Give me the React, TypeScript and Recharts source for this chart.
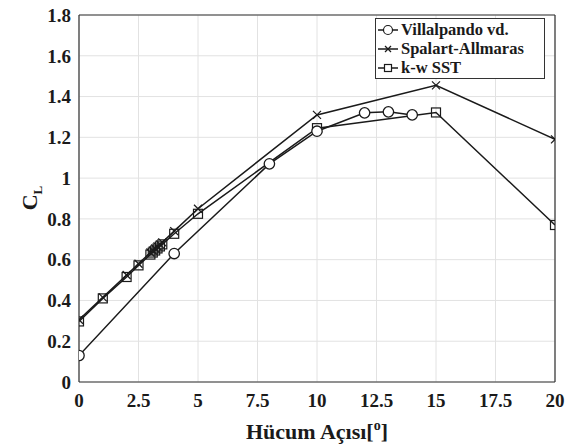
import React from 'react';
import { LineChart, Line, XAxis, YAxis, CartesianGrid, ReferenceLine, Label } from 'recharts';

// angle of attack / lift coefficient
const villalpandoAoa = [0, 4, 8, 10, 12, 13, 14];
const villalpandoCl = [0.13, 0.63, 1.07, 1.23, 1.32, 1.325, 1.31];

const saAoa = [0, 1, 2, 2.5, 3, 3.1, 3.2, 3.3, 3.4, 3.5, 4, 5, 10, 15, 20];
const saCl = [0.305, 0.415, 0.525, 0.58, 0.635, 0.645, 0.655, 0.665, 0.675, 0.685, 0.74, 0.85, 1.31, 1.455, 1.19];

const sstAoa = [0, 1, 2, 2.5, 3, 3.1, 3.2, 3.3, 3.4, 3.5, 4, 5, 10, 15, 20];
const sstCl = [0.297, 0.41, 0.515, 0.572, 0.625, 0.635, 0.645, 0.655, 0.665, 0.675, 0.727, 0.825, 1.245, 1.322, 0.77];

const xTicks = [0, 2.5, 5, 7.5, 10, 12.5, 15, 17.5, 20];
const yTicks = [0, 0.2, 0.4, 0.6, 0.8, 1, 1.2, 1.4, 1.6, 1.8];

const legendNames = ['Villalpando vd.', 'Spalart-Allmaras', 'k-w SST'];

const toPoints = (xs: number[], ys: number[]) => xs.map((aoa, i) => ({ aoa, cl: ys[i] }));

const villalpando = toPoints(villalpandoAoa, villalpandoCl);
const spalart = toPoints(saAoa, saCl);
const sst = toPoints(sstAoa, sstCl);

if (typeof document !== 'undefined') document.body.style.margin = '0';

const FONT = '"Liberation Serif", "Times New Roman", serif';
const INK = '#1a1a1a';

const CircleDot = (p: any) => {
  if (p.cx == null || p.cy == null) return null;
  return <circle key={p.index} cx={p.cx} cy={p.cy} r={5.2} fill="#fff" stroke={INK} strokeWidth={1.3} />;
};

const CrossDot = (p: any) => {
  if (p.cx == null || p.cy == null) return null;
  const s = 4;
  return (
    <g key={p.index} stroke={INK} strokeWidth={1.3}>
      <line x1={p.cx - s} y1={p.cy - s} x2={p.cx + s} y2={p.cy + s} />
      <line x1={p.cx - s} y1={p.cy + s} x2={p.cx + s} y2={p.cy - s} />
    </g>
  );
};

const SquareDot = (p: any) => {
  if (p.cx == null || p.cy == null) return null;
  const s = 4.5;
  return <rect key={p.index} x={p.cx - s} y={p.cy - s} width={2 * s} height={2 * s} fill="none" stroke={INK} strokeWidth={1.2} />;
};

const XLabel = (props: any) => {
  const vb = props.viewBox;
  const cx = vb.x + vb.width / 2;
  return (
    <text x={cx} y={439} textAnchor="middle" fontFamily={FONT} fontWeight="bold" fontSize={22} fill={INK}>
      Hücum Açısı[
      <tspan dy={-9} fontSize={14}>o</tspan>
      <tspan dy={9}>]</tspan>
    </text>
  );
};

const YLabel = () => (
  <text transform="translate(37,198) rotate(-90)" textAnchor="middle" fontFamily={FONT} fontWeight="bold" fontSize={22} fill={INK}>
    C<tspan dy={5} fontSize={13}>L</tspan>
  </text>
);

const LegendSample = ({ kind }: { kind: number }) => (
  <svg width={22} height={14} style={{ display: 'block', flex: 'none' }}>
    <line x1={1} y1={7} x2={21} y2={7} stroke={INK} strokeWidth={1.5} />
    {kind === 0 && <circle cx={11} cy={7} r={4.5} fill="#fff" stroke={INK} strokeWidth={1.2} />}
    {kind === 1 && (
      <g stroke={INK} strokeWidth={1.2}>
        <line x1={8} y1={4} x2={14} y2={10} />
        <line x1={8} y1={10} x2={14} y2={4} />
      </g>
    )}
    {kind === 2 && <rect x={7.5} y={3.5} width={7} height={7} fill="#fff" stroke={INK} strokeWidth={1.2} />}
  </svg>
);

export default function App() {
  return (
    <div style={{ position: 'relative', width: 571, height: 445, background: '#fff' }}>
      <LineChart width={571} height={445} margin={{ top: 15, right: 16, bottom: 0, left: 0 }}>
        <CartesianGrid stroke="#e2e2e2" strokeWidth={1} />
        <XAxis
          type="number"
          dataKey="aoa"
          domain={[0, 20]}
          ticks={xTicks}
          allowDataOverflow
          height={63}
          tickLine={false}
          tickMargin={6}
          axisLine={{ stroke: '#333', strokeWidth: 1.2 }}
          tick={{ fontFamily: FONT, fontWeight: 'bold', fontSize: 19, fill: INK }}
        >
          <Label content={<XLabel />} />
        </XAxis>
        <YAxis
          type="number"
          domain={[0, 1.8]}
          ticks={yTicks}
          allowDataOverflow
          width={79}
          tickLine={false}
          tickMargin={2}
          axisLine={{ stroke: '#333', strokeWidth: 1.2 }}
          tick={{ fontFamily: FONT, fontWeight: 'bold', fontSize: 19, fill: INK }}
        >
          <Label content={<YLabel />} />
        </YAxis>
        <ReferenceLine x={20} stroke="#333" strokeWidth={1.2} />
        <ReferenceLine y={1.8} stroke="#333" strokeWidth={1.2} />
        <Line data={sst} dataKey="cl" type="linear" stroke={INK} strokeWidth={1.5} dot={SquareDot} isAnimationActive={false} />
        <Line data={spalart} dataKey="cl" type="linear" stroke={INK} strokeWidth={1.5} dot={CrossDot} isAnimationActive={false} />
        <Line data={villalpando} dataKey="cl" type="linear" stroke={INK} strokeWidth={1.5} dot={CircleDot} isAnimationActive={false} />
      </LineChart>
      <div
        style={{
          position: 'absolute',
          left: 375,
          top: 18,
          width: 168,
          height: 57,
          border: '1.5px solid #333',
          background: '#fff',
          boxSizing: 'content-box',
          fontFamily: FONT,
          fontWeight: 'bold',
          fontSize: 16.5,
          color: INK,
          padding: '1px 0',
        }}
      >
        {legendNames.map((name, i) => (
          <div key={name} style={{ display: 'flex', alignItems: 'center', height: 19, paddingLeft: 1, gap: 2 }}>
            <LegendSample kind={i} />
            <span style={{ lineHeight: '19px', whiteSpace: 'nowrap' }}>{name}</span>
          </div>
        ))}
      </div>
    </div>
  );
}
